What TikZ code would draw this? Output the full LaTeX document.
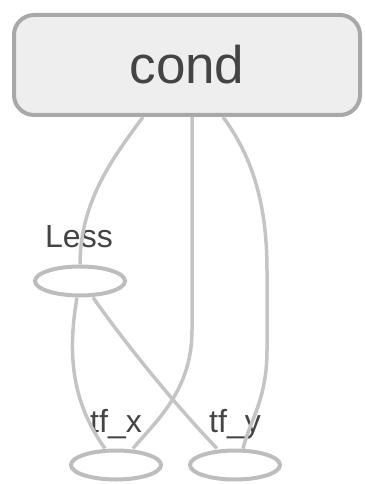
\documentclass[tikz,border=0pt]{standalone}
\usepackage{fontspec}
\setmainfont{Liberation Sans}
\usetikzlibrary{shapes.geometric,calc}
\definecolor{boxfill}{HTML}{EEEEEE}
\definecolor{boxline}{HTML}{A8A8A8}
\definecolor{edgecol}{HTML}{C4C4C4}
\definecolor{ellcol}{HTML}{BDBDBD}
\definecolor{txt}{HTML}{444444}
\tikzset{
  condbox/.style={draw=boxline, fill=boxfill, line width=4pt, rounded corners=20pt,
    minimum width=346pt, minimum height=100pt, inner sep=0pt, text=txt, font=\fontsize{53}{60}\selectfont},
  opnode/.style={draw=ellcol, ellipse, line width=4pt, minimum width=90pt, minimum height=29pt, inner sep=0pt},
  oplabel/.style={anchor=base, text=txt, font=\fontsize{32}{38}\selectfont, inner sep=0pt},
  edge/.style={draw=edgecol, line width=3.5pt}
}
\begin{document}
\begin{tikzpicture}[x=1pt,y=-1pt]
\useasboundingbox (0,0) rectangle (364,484);
\node[condbox] (cond) at (187,65) {cond};
\node[opnode] (less) at (80,281) {};
\node[opnode] (tfx) at (116,465) {};
\node[opnode] (tfy) at (235,465) {};
\node[oplabel] (lesslbl) at (79,247) {Less};
\node[oplabel] (tfxlbl) at (116,432) {tf\_x};
\node[oplabel] (tfylbl) at (235,432) {tf\_y};
% edges
\draw[edge] ($(cond.south)+(-44,0)$) .. controls (115,155) and (80,200) .. (less.north);
\draw[edge] ($(cond.south)+(5,0)$) -- (192,330) .. controls (192,390) and (157,420) .. ($(tfx.north)+(17,0)$);
\draw[edge] ($(cond.south)+(36,0)$) .. controls (255,160) and (267,210) .. (267,270) -- (267,350) .. controls (267,400) and (250,420) .. ($(tfy.north)+(8,0)$);
\draw[edge] ($(less.south)+(-3,0)$) .. controls (68,350) and (70,400) .. ($(tfx.north)+(-11,0)$);
\draw[edge] ($(less.south)+(13,0)$) .. controls (130,350) and (180,410) .. ($(tfy.north)+(-18,0)$);
\end{tikzpicture}
\end{document}
